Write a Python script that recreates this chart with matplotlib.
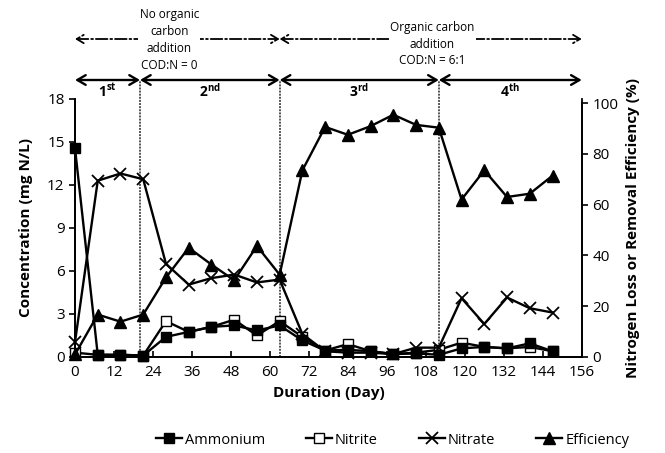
import matplotlib
matplotlib.use('Agg')
import matplotlib.pyplot as plt
import matplotlib.transforms as mtransforms

plt.rcParams['font.family'] = ['Open Sans', 'DejaVu Sans']
plt.rcParams['mathtext.fontset'] = 'custom'
plt.rcParams['mathtext.rm'] = 'Open Sans'
plt.rcParams['mathtext.bf'] = 'Open Sans:bold'

# data
days = [0, 7, 14, 21, 28, 35, 42, 49, 56, 63, 70, 77, 84, 91, 98, 105, 112,
        119, 126, 133, 140, 147]
ammonium = [14.55, 0.15, 0.15, 0.1, 1.4, 1.75, 2.1, 2.2, 1.85, 2.2, 1.15, 0.45,
            0.5, 0.4, 0.2, 0.25, 0.15, 0.6, 0.7, 0.6, 0.95, 0.4]
nitrite = [0.3, 0.15, 0.15, 0.1, 2.5, 1.75, 2.1, 2.6, 1.5, 2.5, 1.4, 0.45,
           0.9, 0.4, 0.2, 0.3, 0.5, 1.0, 0.7, 0.6, 0.7, 0.4]
nitrate = [1.05, 12.3, 12.8, 12.4, 6.5, 5.05, 5.5, 5.75, 5.2, 5.4, 1.6, 0.4,
           0.3, 0.3, 0.2, 0.65, 0.65, 4.1, 2.3, 4.15, 3.4, 3.1]
efficiency = [1, 16.7, 13.9, 16.7, 31.3, 43, 36.4, 30.2, 43.7, 32.4, 73.5, 90.6,
              87.5, 90.9, 95.4, 91.4, 90.3, 62, 73.5, 63, 64.3, 71.4]

phase_bounds = [0, 20, 63, 112, 156]
phase_labels = ['1$^{\\mathbf{st}}$', '2$^{\\mathbf{nd}}$', '3$^{\\mathbf{rd}}$', '4$^{\\mathbf{th}}$']
carbon_bounds = [0, 63, 156]
carbon_labels = ['No organic\ncarbon\naddition\nCOD:N = 0',
                 'Organic carbon\naddition\nCOD:N = 6:1']

fig = plt.figure(figsize=(6.65, 4.53), dpi=100)
ax = fig.add_axes([0.1128, 0.212, 0.762, 0.5695])
ax2 = ax.twinx()

ax.plot(days, ammonium, color='black', marker='s', markersize=6.5, lw=1.7,
        markerfacecolor='black', label='Ammonium', zorder=4, clip_on=False)
ax.plot(days, nitrite, color='black', marker='s', markersize=6.5, lw=1.7,
        markerfacecolor='white', label='Nitrite', zorder=3, clip_on=False)
ax.plot(days, nitrate, color='black', marker='x', markersize=8, lw=1.7,
        markeredgewidth=1.3, label='Nitrate', zorder=3, clip_on=False)
ax2.plot(days, efficiency, color='black', marker='^', markersize=8, lw=1.7,
         label='Efficiency', zorder=3, clip_on=False)

ax.set_xlim(0, 156)
ax.set_ylim(0, 18)
ax2.set_ylim(0, 101.6)
ax.set_xticks(range(0, 157, 12))
ax.set_yticks(range(0, 19, 3))
ax2.set_yticks(range(0, 101, 20))
ax2.spines['right'].set_bounds(0, 100)
for a in (ax, ax2):
    a.spines['top'].set_visible(False)
    for s in a.spines.values():
        s.set_linewidth(1.3)
ax.tick_params(axis='x', direction='in', length=4, width=1.2, labelsize=11, pad=6)
ax.tick_params(axis='y', direction='out', length=4, width=1.2, labelsize=11)
ax2.tick_params(axis='y', direction='out', length=4, width=1.2, labelsize=11)

ax.set_xlabel('Duration (Day)', fontsize=11, fontweight='bold', labelpad=4)
ax.set_ylabel('Concentration (mg N/L)', fontsize=11, fontweight='bold', labelpad=10)
ax2.set_ylabel('Nitrogen Loss or Removal Efficiency (%)', fontsize=11,
               fontweight='bold', labelpad=6)

# phase dividers
for xb in phase_bounds[1:-1]:
    ax.axvline(xb, ymin=0, ymax=1.074, color='#555555', lw=1.4,
               linestyle=(0, (1, 0.6)), clip_on=False, zorder=1)

trans = mtransforms.blended_transform_factory(ax.transData, fig.transFigure)
row1_y = 1 - 39 / 453
row2_y = 1 - 80 / 453

for i in range(len(carbon_bounds) - 1):
    x0, x1 = carbon_bounds[i], carbon_bounds[i + 1]
    ax.annotate('', xy=(x1, row1_y), xytext=(x0, row1_y), xycoords=trans,
                textcoords=trans, annotation_clip=False,
                arrowprops=dict(arrowstyle='<->,head_length=0.5,head_width=0.3',
                                lw=1.3, linestyle='-.', color='black',
                                shrinkA=0, shrinkB=0))
ax.text(29, 1 - 40 / 453, carbon_labels[0], transform=trans, ha='center',
        va='center', fontsize=8.5, linespacing=1.4,
        bbox=dict(facecolor='white', edgecolor='none', pad=1))
ax.text(110, 1 - 44 / 453, carbon_labels[1], transform=trans, ha='center',
        va='center', fontsize=8.5, linespacing=1.4,
        bbox=dict(facecolor='white', edgecolor='none', pad=1))

for i in range(len(phase_bounds) - 1):
    x0, x1 = phase_bounds[i], phase_bounds[i + 1]
    ax.annotate('', xy=(x1, row2_y), xytext=(x0, row2_y), xycoords=trans,
                textcoords=trans, annotation_clip=False,
                arrowprops=dict(arrowstyle='<->,head_length=0.6,head_width=0.35',
                                lw=1.7, color='black', shrinkA=0, shrinkB=0))
    ax.text((x0 + x1) / 2, 1 - 91 / 453, phase_labels[i], transform=trans,
            ha='center', va='center', fontsize=10, fontweight='bold')

h1, l1 = ax.get_legend_handles_labels()
h2, l2 = ax2.get_legend_handles_labels()
fig.legend(h1 + h2, l1 + l2, loc='center', bbox_to_anchor=(0.59, 1 - 440 / 453),
           ncol=4, frameon=False, fontsize=10.5, handlelength=1.8,
           handletextpad=0.2, columnspacing=2.8)

fig.savefig('out.png', dpi=100)
